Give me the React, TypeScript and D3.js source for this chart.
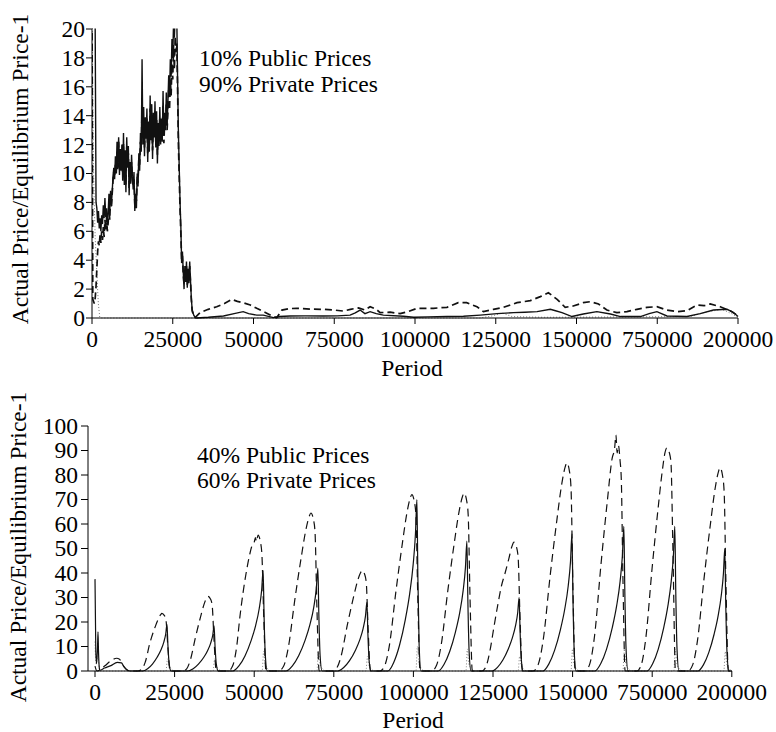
import React from 'react';
import * as d3 from 'd3';

type P = [number, number];

const xTickValues = [0, 25000, 50000, 75000, 100000, 125000, 150000, 175000, 200000];
const xTickLabels = ['0', '25000', '50000', '75000', '100000', '125000', '150000', '750000', '200000'];
const topYTicks = [0, 2, 4, 6, 8, 10, 12, 14, 16, 18, 20];
const botYTicks = [0, 10, 20, 30, 40, 50, 60, 70, 80, 90, 100];

const topLabel = ['10% Public Prices', '90% Private Prices'];
const botLabel = ['40% Public Prices', '60% Private Prices'];
const xTitle = 'Period';
const yTitle = 'Actual Price/Equilibrium Price-1';

const topSolid: P[] = [
  [0, 24], [900, 24], [1250, 8.0], [1500, 7.6], [1750, 6.6], [2000, 7.4], [2250, 6.2], [2500, 6.9], [2750, 6.0],
  [3000, 7.1], [3250, 6.5], [3500, 7.8], [3750, 6.9], [4000, 8.3], [4250, 7.0], [4500, 7.6], [4750, 6.4],
  [5000, 7.2], [5250, 8.6], [5500, 7.4], [5750, 8.8], [6000, 7.9], [6250, 8.7], [6500, 9.8], [6750, 10.4],
  [7000, 9.6], [7250, 11.2], [7500, 10.1], [7750, 12.2], [8000, 10.8], [8250, 12.5], [8500, 9.9], [8750, 11.7],
  [9000, 10.2], [9250, 12.0], [9500, 9.5], [9750, 12.8], [10000, 9.2], [10250, 11.6], [10500, 8.7], [10750, 12.5],
  [11000, 10.4], [11250, 11.9], [11500, 8.5], [11750, 10.8], [12000, 9.3], [12250, 11.3], [12500, 9.8], [12750, 8.9],
  [13000, 10.1], [13250, 7.4], [13500, 8.6], [13750, 7.6], [14000, 10.0], [14250, 9.1], [14500, 11.4], [14750, 10.2],
  [15000, 12.8], [15250, 11.5], [15500, 17.9], [15750, 12.0], [16000, 14.6], [16250, 11.2], [16500, 13.9], [16750, 12.4],
  [17000, 14.5], [17250, 10.8], [17500, 13.6], [17750, 11.5], [18000, 15.4], [18250, 12.3], [18500, 14.8], [18750, 11.0],
  [19000, 14.2], [19250, 12.5], [19500, 15.0], [19750, 11.8], [20000, 14.3], [20250, 10.7], [20500, 13.5], [20750, 11.9],
  [21000, 14.6], [21250, 12.0], [21500, 13.8], [21750, 12.2], [22000, 15.7], [22250, 12.6], [22500, 14.2], [22750, 13.0],
  [23000, 15.6], [23250, 13.4], [23500, 14.9], [23750, 16.8], [24000, 15.3], [24250, 17.9], [24500, 16.7], [24750, 19.3],
  [25000, 18.0], [25250, 20.5], [25500, 19.4], [25750, 21], [26000, 20.6], [26250, 20.8], [26500, 16.5], [26750, 12.8],
  [27000, 10.5], [27250, 8.1], [27500, 6.4], [27750, 3.8], [28000, 4.6], [28250, 3.2], [28500, 2.0], [28750, 3.6],
  [29000, 2.5], [29250, 3.9], [29500, 2.1], [29750, 3.4], [30000, 2.4], [30250, 3.9], [30500, 2.6], [30750, 1.4],
  [31000, 0.6], [31500, 0.2], [32000, 0.02], [32400, 0], [36000, 0.05], [40700, 0.14], [44000, 0.3], [46800, 0.44],
  [48500, 0.3], [51000, 0.2], [53000, 0.2], [56200, 0.03], [58000, 0.1], [61300, 0.14], [66000, 0.15], [71600, 0.14],
  [76000, 0.15], [79900, 0.2], [81500, 0.35], [83000, 0.55], [84500, 0.3], [86100, 0.44], [88000, 0.3], [90200, 0.2],
  [96400, 0.12], [99600, 0.05], [104000, 0.08], [109900, 0.1], [115000, 0.12], [120200, 0.2], [125400, 0.3],
  [130500, 0.37], [134000, 0.4], [137800, 0.44], [141900, 0.6], [143500, 0.5], [145500, 0.37], [148600, 0.1],
  [152100, 0.28], [156300, 0.44], [160500, 0.28], [163600, 0.1], [169800, 0.1], [172500, 0.3], [174900, 0.44],
  [178000, 0.14], [184200, 0.1], [188300, 0.3], [192400, 0.55], [196600, 0.6], [198500, 0.4], [200000, 0.1],
];

const topDashed: P[] = [
  [0, 22], [250, 1.3], [700, 1.0], [1000, 1.4], [1250, 2.2], [1500, 3.4], [1750, 4.6], [2000, 5.3], [2250, 5.0],
  [2500, 5.8], [2750, 5.2], [3000, 6.0], [3250, 5.4], [3500, 6.3], [3750, 5.6], [4000, 6.8], [4250, 6.1], [4500, 7.0],
  [4750, 6.0], [5000, 6.6], [5250, 7.6], [5500, 6.8], [5750, 8.4], [6000, 7.6], [6250, 8.6], [6500, 9.5], [6750, 10.1],
  [7000, 9.9], [7250, 10.6], [7500, 10.0], [7750, 11.5], [8000, 10.3], [8250, 12.2], [8500, 10.4], [8750, 11.0],
  [9000, 10.7], [9250, 11.7], [9500, 10.1], [9750, 12.1], [10000, 9.8], [10250, 11.0], [10500, 9.2], [10750, 11.8],
  [11000, 10.7], [11250, 11.4], [11500, 9.0], [11750, 10.3], [12000, 9.7], [12250, 10.8], [12500, 9.5], [12750, 9.2],
  [13000, 9.6], [13250, 7.9], [13500, 8.4], [13750, 8.1], [14000, 9.6], [14250, 9.5], [14500, 11.0], [14750, 10.6],
  [15000, 12.2], [15250, 11.8], [15500, 14.5], [15750, 12.6], [16000, 13.8], [16250, 11.8], [16500, 13.2], [16750, 12.9],
  [17000, 13.8], [17250, 11.4], [17500, 13.0], [17750, 12.0], [18000, 14.5], [18250, 12.8], [18500, 14.0], [18750, 11.6],
  [19000, 13.6], [19250, 12.9], [19500, 14.3], [19750, 12.2], [20000, 13.7], [20250, 11.3], [20500, 13.0], [20750, 12.3],
  [21000, 13.9], [21250, 12.4], [21500, 13.2], [21750, 12.5], [22000, 14.8], [22250, 12.1], [22500, 13.6], [22750, 13.3],
  [23000, 14.8], [23250, 13.0], [23500, 14.3], [23750, 15.9], [24000, 14.4], [24250, 16.5], [24500, 15.4], [24750, 17.6],
  [25000, 16.5], [25250, 18.9], [25500, 17.2], [25750, 19.5], [26000, 18.4], [26250, 19.0], [26500, 15.8], [26750, 12.0],
  [27000, 9.8], [27250, 7.6], [27500, 5.9], [27750, 4.0], [28000, 4.3], [28250, 3.0], [28500, 2.3], [28750, 3.3],
  [29000, 2.6], [29250, 3.6], [29500, 2.3], [29750, 3.1], [30000, 2.5], [30250, 3.6], [30500, 2.5], [30750, 1.3],
  [31000, 0.5], [31500, 0.15], [32000, 0.05], [33450, 0.37], [36000, 0.6], [38600, 0.78], [41000, 1.0], [43300, 1.29],
  [45000, 1.15], [46800, 1.06], [49000, 0.9], [51000, 0.67], [53500, 0.4], [55700, 0.14], [57200, 0.02], [58800, 0.55],
  [61000, 0.65], [63400, 0.67], [67500, 0.62], [71600, 0.6], [75000, 0.55], [77800, 0.48], [80000, 0.6], [82500, 0.7],
  [84500, 0.55], [86100, 0.78], [88000, 0.6], [89200, 0.37], [92300, 0.4], [95400, 0.3], [98000, 0.45], [100600, 0.67],
  [105700, 0.67], [109900, 0.74], [113400, 1.06], [116000, 1.06], [119200, 0.78], [121200, 0.44], [124300, 0.6],
  [127400, 0.74], [131600, 1.06], [135700, 1.2], [138800, 1.48], [141300, 1.75], [144000, 1.29], [146500, 0.74],
  [149000, 0.83], [152100, 1.06], [154300, 1.13], [156800, 0.97], [159400, 0.55], [162500, 0.37], [165600, 0.44],
  [168700, 0.6], [171800, 0.74], [174900, 0.78], [178000, 0.55], [181100, 0.44], [184200, 0.5], [187300, 0.9],
  [189500, 0.85], [191400, 0.97], [194500, 0.78], [197600, 0.5], [199700, 0.2], [200000, 0.1],
];

const topDotted: P[] = [
  [0, 24], [200, 16], [500, 10], [700, 7.9], [1000, 5.5], [1450, 3.3], [1960, 1], [2400, 0.05], [3000, 0],
  [120000, 0], [124000, 0.15], [127000, 0.35], [130000, 0.1], [140000, 0.05], [185000, 0.1], [190000, 0.4],
  [195000, 0.6], [198000, 0.3], [200000, 0.05],
];

const botSolid: P[] = [
  [0, 37.5], [250, 8], [500, 3], [800, 10], [940, 16], [1100, 8], [1300, 2], [1500, 0.3], [3000, 1.2], [5000, 2.2],
  [7000, 3.5], [8300, 3.3], [9000, 2], [10200, 0.3], [11000, 0], [15000, 0],
  [16520, 0.95], [18040, 2.85], [19560, 5.7], [20700, 8.55], [21610, 11.8], [22220, 15.2], [22600, 19], [22900, 10.5], [23300, 2.9], [23900, 0], [29200, 0],
  [30840, 0.9], [32480, 2.8], [34120, 5.5], [35350, 8.3], [36330, 11.4], [36990, 14.7], [37400, 18.4], [37700, 10.1], [38100, 2.8], [38700, 0], [43300, 0],
  [45200, 2.05], [47100, 6.15], [49000, 12.3], [50425, 18.45], [51565, 25.4], [52325, 32.8], [52800, 41], [53100, 22.5], [53500, 6.2], [54100, 0], [60000, 0],
  [62000, 2.1], [64000, 6.3], [66000, 12.6], [67500, 18.9], [68700, 26], [69500, 33.6], [70000, 42], [70300, 23.1], [70700, 6.3], [71300, 0], [76300, 0],
  [78120, 1.4], [79940, 4.2], [81760, 8.4], [83125, 12.6], [84220, 17.4], [84945, 22.4], [85400, 28], [85700, 15.4], [86100, 4.2], [86700, 0], [92000, 0],
  [93820, 3.5], [95640, 10.5], [97460, 21], [98825, 31.5], [99920, 43.4], [100645, 56], [101100, 70], [101400, 38.5], [101800, 10.5], [102400, 0], [107800, 0],
  [109600, 2.65], [111400, 7.95], [113200, 15.9], [114550, 23.85], [115630, 32.9], [116350, 42.4], [116800, 53], [117100, 29.2], [117500, 8], [118100, 0], [124700, 0],
  [126400, 1.5], [128100, 4.5], [129800, 9], [131075, 13.5], [132095, 18.6], [132775, 24], [133200, 30], [133500, 16.5], [133900, 4.5], [134500, 0], [140700, 0],
  [142520, 2.8], [144340, 8.4], [146160, 16.8], [147525, 25.2], [148620, 34.7], [149345, 44.8], [149800, 56], [150100, 30.8], [150500, 8.4], [151100, 0], [157000, 0],
  [158820, 2.95], [160640, 8.85], [162460, 17.7], [163825, 26.55], [164920, 36.6], [165645, 47.2], [166100, 59], [166400, 32.5], [166800, 8.85], [167400, 0], [173400, 0],
  [175140, 2.95], [176880, 8.85], [178620, 17.7], [179925, 26.55], [180970, 36.6], [181665, 47.2], [182100, 59], [182400, 32.5], [182800, 8.85], [183400, 0], [189400, 0],
  [191080, 2.5], [192760, 7.5], [194440, 15], [195700, 22.5], [196708, 31], [197380, 40], [197800, 50], [198100, 27.5], [198500, 7.5], [199100, 0], [200000, 0],
];

const botDashed: P[] = [
  [0, 2], [600, 0], [3000, 2], [5000, 4.2], [6800, 5.2], [7700, 4.8], [8600, 2.6], [10000, 0.5], [11000, 0], [13500, 0],
  [14625, 0.7], [15750, 3.5], [17250, 11.5], [18750, 17.5], [19875, 21.2], [20625, 23], [21000, 23.5], [21800, 22.6], [22300, 20.7], [22900, 9.4], [23600, 0], [27600, 0],
  [28785, 0.9], [29970, 4.6], [31550, 13.7], [33130, 22], [34315, 27.5], [35105, 29.9], [35500, 30.5], [36300, 29.3], [36800, 26.8], [37400, 12.2], [38100, 0], [41800, 0],
  [43200, 2], [44500, 10], [45500, 22], [46500, 32], [47600, 41], [48500, 47], [49200, 50.7], [50000, 52.5], [50400, 54.5], [50700, 52.8], [51200, 55.5], [51900, 53], [52400, 48], [53000, 22], [53700, 0], [57700, 0],
  [59215, 1.9], [60730, 9.7], [62750, 29], [64770, 46.4], [66285, 58], [67295, 63.2], [67800, 64.5], [68600, 61.9], [69100, 56.8], [69700, 25.8], [70400, 0], [74500, 0],
  [75910, 1.2], [77320, 6.2], [79200, 18.5], [81080, 29.5], [82490, 36.9], [83430, 40.2], [83900, 41], [84700, 39.4], [85200, 36.1], [85800, 16.4], [86500, 0], [89500, 0],
  [91000, 2.2], [92500, 10.8], [94500, 32.4], [96500, 51.8], [98000, 64.8], [99000, 70.6], [99500, 72], [100300, 69.1], [100800, 63.4], [101400, 28.8], [102100, 0], [105700, 0],
  [107230, 2.2], [108760, 10.9], [110800, 32.7], [112840, 52.3], [114370, 65.3], [115390, 71.1], [115900, 72.6], [116700, 69.7], [117200, 63.9], [117800, 29], [118500, 0], [121500, 0],
  [122700, 1.5], [124000, 8], [125300, 18], [126600, 27.7], [127700, 35], [128800, 40], [130000, 46], [130900, 50.7], [131600, 52.6], [132400, 50.5], [132900, 46.3], [133500, 21], [134200, 0], [137600, 0],
  [139190, 2.6], [140780, 12.8], [142900, 38.3], [145020, 61.2], [146610, 76.5], [147670, 83.3], [148200, 85], [149000, 81.6], [149500, 74.8], [150100, 34], [150800, 0], [153900, 0],
  [155400, 2.9], [156900, 14.4], [158900, 43.3], [160900, 69.3], [162400, 86.7], [163200, 91], [163600, 96.3], [164000, 89], [164400, 92], [164900, 86], [165300, 78], [165800, 38.5], [166500, 0], [170200, 0],
  [171610, 2.7], [173020, 13.7], [174900, 41], [176780, 65.5], [178190, 81.9], [179000, 89], [179600, 91], [180400, 89], [180900, 85], [181500, 50], [182300, 0], [186200, 0],
  [187715, 2.5], [189230, 12.5], [191250, 37.4], [193270, 59.8], [194785, 74.7], [195795, 81.3], [196300, 83], [197100, 79.7], [197600, 73], [198200, 33.2], [198900, 0], [200000, 0],
];

const botDotted: P[] = [
  [0, 12], [300, 3], [900, 6], [1500, 0],
  [22300, 0], [22750, 5], [23200, 2.5], [24000, 0.8], [25000, 0],
  [37100, 0], [37550, 5], [38000, 2.5], [38800, 0.8], [39800, 0],
  [52500, 0], [52950, 8], [53400, 3], [54200, 1], [55200, 0],
  [69700, 0], [70150, 8], [70600, 3], [71400, 1], [72400, 0],
  [85100, 0], [85550, 6], [86000, 2.5], [86800, 0.8], [87800, 0],
  [100800, 0], [101250, 10], [101700, 3.5], [102500, 1], [103500, 0],
  [116500, 0], [116950, 9], [117400, 3], [118200, 1], [119200, 0],
  [132900, 0], [133350, 6], [133800, 2.5], [134600, 0.8], [135600, 0],
  [149500, 0], [149950, 9], [150400, 3], [151200, 1], [152200, 0],
  [165800, 0], [166250, 9], [166700, 3], [167500, 1], [168500, 0],
  [181800, 0], [182250, 9], [182700, 3], [183500, 1], [184500, 0],
  [197500, 0], [197950, 8], [198400, 3], [199200, 1], [200000, 0],
];

const FONT = "'Liberation Serif', 'DejaVu Serif', 'Times New Roman', Times, serif";
const FS = 23.5;
const txt: React.CSSProperties = { fontFamily: FONT, fontSize: FS };

export default function App() {
  const xT = d3.scaleLinear().domain([0, 200000]).range([92, 738]);
  const yT = d3.scaleLinear().domain([0, 20]).range([318, 29]);
  const xB = d3.scaleLinear().domain([-2200, 200000]).range([88, 731.8]);
  const yB = d3.scaleLinear().domain([0, 100]).range([671, 426]);

  const lineT = d3.line<P>().x((d) => xT(d[0])).y((d) => yT(d[1]));
  const lineB = d3.line<P>().x((d) => xB(d[0])).y((d) => yB(d[1])).curve(d3.curveMonotoneX);

  const renderAxes = (
    xs: d3.ScaleLinear<number, number>,
    ys: d3.ScaleLinear<number, number>,
    yTicks: number[],
    axisX: number,
    xEnd: number,
    tickLen: number,
    labelRight: number,
  ) => {
    const y0 = ys(0);
    const yTop = ys(yTicks[yTicks.length - 1]);
    return (
      <g>
        <line x1={axisX} x2={axisX} y1={yTop} y2={y0} stroke="#000" strokeWidth={1} />
        <line x1={axisX} x2={xEnd} y1={y0} y2={y0} stroke="#000" strokeWidth={1} />
        {yTicks.map((t) => (
          <g key={'y' + t}>
            <line x1={axisX - tickLen} x2={axisX} y1={ys(t)} y2={ys(t)} stroke="#000" strokeWidth={1} />
            <text x={labelRight} y={ys(t)} dy="0.34em" textAnchor="end" style={txt}>{t}</text>
          </g>
        ))}
        {xTickValues.map((t, i) => (
          <g key={'x' + t}>
            <line x1={xs(t)} x2={xs(t)} y1={y0} y2={y0 + 6} stroke="#000" strokeWidth={1} />
            <text x={xs(t)} y={y0 + 28.7} textAnchor="middle" style={txt}>{xTickLabels[i]}</text>
          </g>
        ))}
      </g>
    );
  };

  return (
    <svg
      width={776}
      height={732}
      style={{ position: 'absolute', left: 0, top: 0, background: '#fff', fontFamily: FONT }}
    >
      <defs>
        <clipPath id="clipTop">
          <rect x={92} y={28.5} width={647} height={292} />
        </clipPath>
        <clipPath id="clipBot">
          <rect x={88} y={420} width={645} height={253} />
        </clipPath>
      </defs>
      <rect x={0} y={0} width={776} height={732} fill="#fff" />

      {/* Top chart */}
      <g clipPath="url(#clipTop)">
        <path d={lineT(topDotted) || ''} fill="none" stroke="#777" strokeWidth={1} strokeDasharray="1,2" />
        <path d={lineT(topDashed) || ''} fill="none" stroke="#111" strokeWidth={1.7} strokeDasharray="7,4" />
        <path d={lineT(topSolid) || ''} fill="none" stroke="#111" strokeWidth={1.4} />
      </g>
      {renderAxes(xT, yT, topYTicks, 92, 738, 6, 85)}
      <text x={199} y={66} style={txt}>{topLabel[0]}</text>
      <text x={199} y={92} style={txt}>{topLabel[1]}</text>
      <text x={412} y={376} textAnchor="middle" style={txt}>{xTitle}</text>
      <text transform="translate(28,169) rotate(-90)" textAnchor="middle" style={txt}>{yTitle}</text>

      {/* Bottom chart */}
      <g clipPath="url(#clipBot)">
        <path d={lineB(botDotted) || ''} fill="none" stroke="#888" strokeWidth={1} strokeDasharray="1,2" />
        <path d={lineB(botDashed) || ''} fill="none" stroke="#111" strokeWidth={1.2} strokeDasharray="8,5" />
        <path d={lineB(botSolid) || ''} fill="none" stroke="#111" strokeWidth={1.2} />
      </g>
      {renderAxes(xB, yB, botYTicks, 88, 732, 7, 78)}
      <text x={197} y={463} style={txt}>{botLabel[0]}</text>
      <text x={197} y={488} style={txt}>{botLabel[1]}</text>
      <text x={413} y={728} textAnchor="middle" style={txt}>{xTitle}</text>
      <text transform="translate(26,547) rotate(-90)" textAnchor="middle" style={txt}>{yTitle}</text>
    </svg>
  );
}
